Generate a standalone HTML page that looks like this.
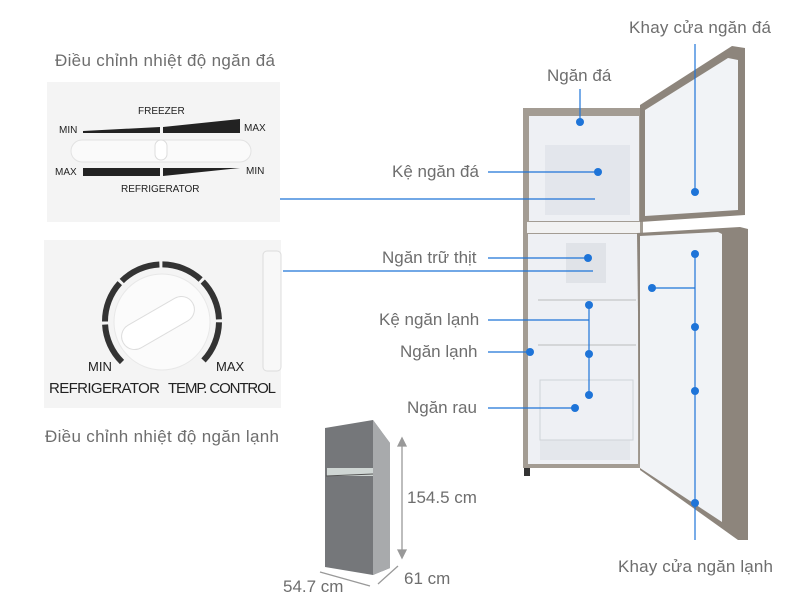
<!DOCTYPE html>
<html><head><meta charset="utf-8"><style>
html,body{margin:0;padding:0;background:#fff;}
svg{display:block;font-family:"Liberation Sans",sans-serif;}
</style></head><body>
<svg width="800" height="600" viewBox="0 0 800 600" xmlns="http://www.w3.org/2000/svg">
<rect width="800" height="600" fill="#fff"/>
<!-- labels -->
<g fill="#6e6e6e" font-size="17">
<text x="55" y="66" textLength="220">Điều chỉnh nhiệt độ ngăn đá</text>
<text x="45" y="442" textLength="234">Điều chỉnh nhiệt độ ngăn lạnh</text>
<text x="547" y="81">Ngăn đá</text>
<text x="629" y="33" textLength="142">Khay cửa ngăn đá</text>
<text x="392" y="177">Kệ ngăn đá</text>
<text x="382" y="263">Ngăn trữ thịt</text>
<text x="379" y="325">Kệ ngăn lạnh</text>
<text x="400" y="357">Ngăn lạnh</text>
<text x="407" y="413">Ngăn rau</text>
<text x="618" y="572" textLength="155">Khay cửa ngăn lạnh</text>
<text x="407" y="503">154.5 cm</text>
<text x="404" y="584">61 cm</text>
<text x="283" y="592">54.7 cm</text>
</g>
<!-- panel 1 -->
<rect x="47" y="82" width="233" height="140" fill="#f4f4f4"/>
<rect x="71" y="140" width="180" height="22" rx="11" fill="#fafafa" stroke="#e2e2e2"/>
<rect x="155" y="140" width="12" height="20" rx="6" fill="#fff" stroke="#ddd"/>
<polygon points="83,131 160,127 160,133 83,133" fill="#222"/>
<polygon points="163,127 240,119 240,133 163,133" fill="#222"/>
<polygon points="83,168 160,168 160,176 83,176" fill="#222"/>
<polygon points="163,168 240,168 163,176" fill="#222"/>
<g font-size="10" fill="#222">
<text x="138" y="114">FREEZER</text>
<text x="59" y="133">MIN</text><text x="244" y="131">MAX</text>
<text x="55" y="175">MAX</text><text x="246" y="174">MIN</text>
<text x="121" y="192">REFRIGERATOR</text>
</g>
<!-- panel 2 -->
<rect x="44" y="240" width="237" height="168" fill="#f4f4f4"/>
<rect x="263" y="251" width="18" height="120" rx="4" fill="#f8f8f8" stroke="#ddd"/>
<circle cx="162" cy="322" r="48" fill="#fbfbfb" stroke="#e8e8e8"/>
<path d="M122,362 A57,57 0 1 1 202,362" fill="none" stroke="#333" stroke-width="6" stroke-dasharray="42 3"/>
<rect x="118" y="310" width="80" height="26" rx="13" fill="#fff" stroke="#ddd" transform="rotate(-30 158 323)"/>
<g fill="#222">
<text x="88" y="371" font-size="13">MIN</text>
<text x="216" y="371" font-size="13">MAX</text>
<text x="49" y="393" font-size="15" textLength="111">REFRIGERATOR</text>
<text x="168" y="393" font-size="15" textLength="108">TEMP. CONTROL</text>
</g>
<!-- big fridge -->
<rect x="523" y="108" width="120" height="360" fill="#a39c93"/>
<rect x="529" y="116" width="110" height="105" fill="#eef0f4"/>
<rect x="545" y="145" width="85" height="70" fill="#e3e6ec"/>
<rect x="527" y="222" width="113" height="11" fill="#f2f2f2"/>
<rect x="528" y="234" width="110" height="230" fill="#eef0f4"/>
<rect x="540" y="440" width="90" height="20" fill="#e4e7ec"/>
<line x1="538" y1="300" x2="636" y2="300" stroke="#bbb"/>
<line x1="538" y1="345" x2="636" y2="345" stroke="#bbb"/>
<rect x="540" y="380" width="93" height="60" fill="none" stroke="#cfd3d8"/>
<rect x="566" y="243" width="40" height="40" fill="#e0e3e8"/>
<rect x="524" y="468" width="6" height="8" fill="#333"/>
<!-- freezer door -->
<polygon points="640,105 732,46 745,48 745,215 640,222" fill="#8d857c"/>
<polygon points="645,110 728,58 738,60 738,210 645,216" fill="#f1f3f6"/>
<!-- fridge door -->
<polygon points="637,233 740,227 748,229 748,540 738,540 640,470" fill="#8d857c"/>
<polygon points="640,236 718,232 722,234 722,522 640,468" fill="#f1f3f6"/>
<!-- small fridge -->
<polygon points="325,428 373,420 390,443 390,568 373,575 325,567" fill="#75777a"/>
<polygon points="373,420 390,443 390,568 373,575" fill="#a8aaac"/>
<rect x="327" y="468" width="46" height="8" fill="#cfd6d4"/>
<line x1="326" y1="476" x2="373" y2="474" stroke="#555"/>
<!-- dimension arrows -->
<g stroke="#999" stroke-width="1.3" fill="#999">
<line x1="402" y1="442" x2="402" y2="554"/>
<polygon points="398,446 402,438 406,446"/><polygon points="398,550 402,558 406,550"/>
<line x1="320" y1="572" x2="370" y2="586"/>
<line x1="378" y1="584" x2="398" y2="566"/>
</g>
<!-- blue pointers -->
<g stroke="#1e74d8" stroke-width="1.2" fill="none">
<line x1="580" y1="89" x2="580" y2="122"/>
<line x1="488" y1="172" x2="598" y2="172"/>
<line x1="280" y1="199" x2="595" y2="199"/>
<line x1="488" y1="258" x2="588" y2="258"/>
<line x1="283" y1="271" x2="593" y2="271"/>
<line x1="488" y1="320" x2="589" y2="320"/>
<line x1="589" y1="305" x2="589" y2="395"/>
<line x1="488" y1="352" x2="530" y2="352"/>
<line x1="488" y1="408" x2="575" y2="408"/>
<line x1="695" y1="44" x2="695" y2="192"/>
<line x1="695" y1="254" x2="695" y2="540"/>
<line x1="652" y1="288" x2="695" y2="288"/>
</g>
<g fill="#1e74d8">
<circle cx="580" cy="122" r="4"/><circle cx="598" cy="172" r="4"/>
<circle cx="588" cy="258" r="4"/><circle cx="589" cy="305" r="4"/>
<circle cx="589" cy="354" r="4"/><circle cx="589" cy="395" r="4"/>
<circle cx="530" cy="352" r="4"/><circle cx="575" cy="408" r="4"/>
<circle cx="695" cy="192" r="4"/><circle cx="695" cy="254" r="4"/>
<circle cx="652" cy="288" r="4"/><circle cx="695" cy="327" r="4"/>
<circle cx="695" cy="391" r="4"/><circle cx="695" cy="503" r="4"/>
</g>
</svg>
</body></html>
